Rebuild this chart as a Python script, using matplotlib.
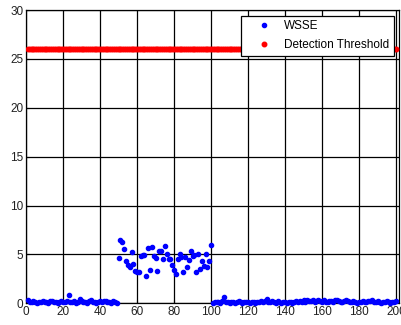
import numpy as np
import matplotlib
matplotlib.use("Agg")
import matplotlib.pyplot as plt

plt.rcParams['font.family'] = ['Liberation Sans', 'DejaVu Sans']

# WSSE per sample, x = 1..49 (normal), 50..100 (attack), 101..200 (normal)
wsse_pre = [0.30, 0.15, 0.10, 0.20, 0.10, 0.05, 0.15,
            0.10, 0.20, 0.10, 0.15, 0.05, 0.20, 0.25,
            0.10, 0.15, 0.05, 0.10, 0.20, 0.15, 0.10,
            0.20, 0.80, 0.15, 0.10, 0.20, 0.05, 0.15,
            0.40, 0.25, 0.10, 0.15, 0.05, 0.20, 0.30,
            0.10, 0.15, 0.05, 0.10, 0.20, 0.15, 0.25,
            0.20, 0.10, 0.15, 0.05, 0.25, 0.10, 0.05]
wsse_mid = [4.60, 6.45, 6.25, 5.50, 4.35, 3.95, 3.75, 5.20, 4.05, 3.30,
            3.15, 3.20, 4.85, 4.95, 4.90, 2.80, 5.65, 3.40, 5.80, 4.80,
            4.65, 3.25, 5.30, 5.30, 4.50, 5.90, 5.05, 4.55, 4.55, 3.90,
            3.40, 2.95, 4.50, 5.05, 4.75, 3.15, 4.75, 3.75, 4.45, 5.30,
            4.85, 4.90, 3.20, 5.00, 3.50, 4.35, 3.85, 5.05, 3.70, 4.30,
            6.00]
wsse_post = [0.05, 0.10, 0.15, 0.10, 0.05, 0.20, 0.60, 0.15, 0.10, 0.05,
             0.10, 0.15, 0.05, 0.10, 0.20, 0.15, 0.05, 0.10, 0.15, 0.10,
             0.05, 0.15, 0.10, 0.05, 0.10, 0.15, 0.20, 0.10, 0.25, 0.40,
             0.15, 0.10, 0.25, 0.10, 0.05, 0.20, 0.10, 0.05, 0.10, 0.15,
             0.05, 0.10, 0.15, 0.05, 0.10, 0.20, 0.15, 0.25, 0.10, 0.30,
             0.15, 0.30, 0.20, 0.25, 0.35, 0.15, 0.20, 0.35, 0.25, 0.10,
             0.30, 0.15, 0.10, 0.20, 0.25, 0.15, 0.35, 0.30, 0.20, 0.10,
             0.15, 0.20, 0.30, 0.25, 0.15, 0.10, 0.20, 0.15, 0.05, 0.10,
             0.15, 0.20, 0.10, 0.15, 0.25, 0.20, 0.30, 0.15, 0.10, 0.20,
             0.10, 0.05, 0.15, 0.10, 0.20, 0.10, 0.05, 0.15, 0.10, 0.20]
threshold_value = 26.0

x_ticks = [0, 20, 40, 60, 80, 100, 120, 140, 160, 180, 200]
y_ticks = [0, 5, 10, 15, 20, 25, 30]


def main():
    wsse = np.array(wsse_pre + wsse_mid + wsse_post)
    samples = np.arange(1, len(wsse) + 1)
    threshold = np.full(len(samples), threshold_value)

    fig = plt.figure(figsize=(4.01, 3.25), dpi=100)
    ax = fig.add_axes([0.065, 0.067, 0.93, 0.902])

    ax.plot(samples, wsse, '.', color='#0000ff', markersize=6, label='WSSE',
            clip_on=False, zorder=3)
    ax.plot(samples, threshold, '.', color='#ff0000', markersize=6.5,
            label='Detection Threshold', zorder=3)

    ax.set_xlim(0, 201.6)
    ax.set_ylim(0, 30)
    ax.set_xticks(x_ticks)
    ax.set_yticks(y_ticks)
    ax.tick_params(direction='in', length=2, labelsize=8.5, pad=2,
                   colors='black', labelcolor='#222222')
    ax.grid(True, color='black', linestyle='-', linewidth=0.9)
    ax.set_axisbelow(True)
    for s in ax.spines.values():
        s.set_linewidth(0.9)

    leg = ax.legend(loc='upper right', bbox_to_anchor=(0.987, 0.981),
                    borderaxespad=0, fontsize=8.5, fancybox=False,
                    framealpha=1, edgecolor='black', handlelength=3.2,
                    handletextpad=0.1, borderpad=0.4, labelspacing=0.6)
    leg.get_frame().set_linewidth(0.9)

    fig.savefig("out.png", dpi=100)


if __name__ == "__main__":
    main()
